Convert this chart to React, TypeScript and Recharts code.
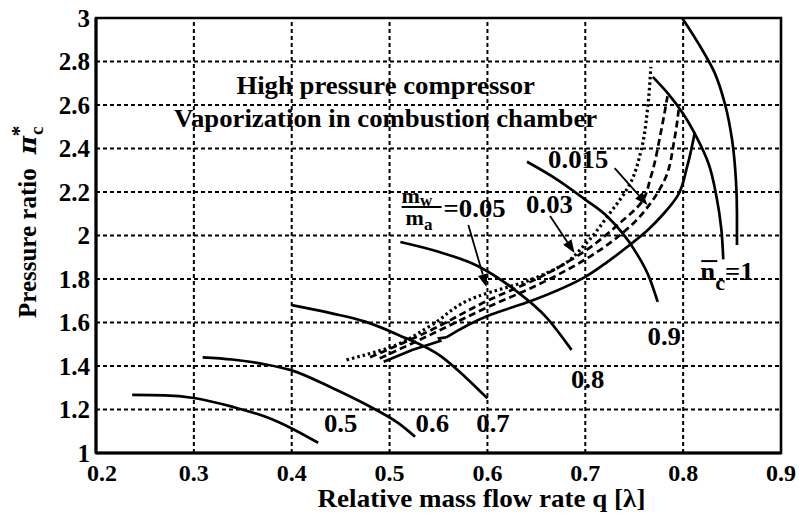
import React from 'react';
import {
  LineChart,
  Line,
  XAxis,
  YAxis,
  ReferenceLine,
  ReferenceDot,
  ReferenceArea,
} from 'recharts';

type Pt = { q: number; pr: number };
const toPts = (arr: number[][]): Pt[] => arr.map(([q, pr]) => ({ q, pr }));

// Constant relative speed lines (q, pressure ratio)
const speed05 = toPts([[0.237, 1.267], [0.27, 1.265], [0.3, 1.253], [0.339, 1.213], [0.374, 1.165], [0.4, 1.113], [0.427, 1.047]]);
const speed06 = toPts([[0.309, 1.44], [0.339, 1.43], [0.37, 1.41], [0.4, 1.38], [0.441, 1.3], [0.475, 1.225], [0.509, 1.137], [0.526, 1.075]]);
const speed07 = toPts([[0.4, 1.68], [0.441, 1.642], [0.475, 1.604], [0.509, 1.543], [0.553, 1.443], [0.577, 1.351], [0.6, 1.251]]);
const speed08 = toPts([[0.511, 1.97], [0.55, 1.925], [0.59, 1.86], [0.628, 1.75], [0.66, 1.625], [0.686, 1.474]]);
const speed09 = toPts([[0.6405, 2.339], [0.672, 2.255], [0.7, 2.165], [0.723, 2.085], [0.75, 1.935], [0.766, 1.8], [0.774, 1.695]]);
// the two highest speed lines, listed from their lower ends upward
const speed10 = toPts([[0.841, 1.89], [0.839, 2.03], [0.834, 2.18], [0.826, 2.33], [0.814, 2.45], [0.8, 2.56], [0.785, 2.65], [0.769, 2.729]]);
const speed105 = toPts([[0.855, 1.956], [0.855, 2.1], [0.854, 2.25], [0.85, 2.44], [0.843, 2.6], [0.832, 2.75], [0.816, 2.88], [0.799, 3.0]]);

// Surge lines for water/air ratios
const surgeDryLow = toPts([[0.494, 1.42], [0.523, 1.474], [0.5517, 1.515], [0.5505, 1.527], [0.558, 1.532]]);
const surgeDryHigh = toPts([[0.558, 1.532], [0.6, 1.63], [0.645, 1.7], [0.7, 1.81], [0.723, 1.88], [0.745, 1.955], [0.765, 2.03], [0.78, 2.1], [0.794, 2.18], [0.804, 2.315], [0.812, 2.476]]);
const surge0015 = toPts([[0.49, 1.435], [0.54, 1.54], [0.6, 1.67], [0.65, 1.77], [0.7, 1.89], [0.75, 2.06], [0.767, 2.15], [0.781, 2.255], [0.791, 2.44], [0.796, 2.6]]);
const surge003 = toPts([[0.48, 1.44], [0.54, 1.56], [0.6, 1.7], [0.65, 1.8], [0.7, 1.93], [0.736, 2.06], [0.757, 2.15], [0.767, 2.27], [0.777, 2.47], [0.784, 2.64]]);
const surge005 = toPts([[0.456, 1.428], [0.5, 1.485], [0.54, 1.58], [0.59, 1.72], [0.64, 1.79], [0.675, 1.86], [0.7, 1.96], [0.723, 2.09], [0.746, 2.24], [0.757, 2.39], [0.764, 2.6], [0.767, 2.775]]);

// Axis ticks
const xTicks = [0.2, 0.3, 0.4, 0.5, 0.6, 0.7, 0.8, 0.9];
const yTicks = [1, 1.2, 1.4, 1.6, 1.8, 2, 2.2, 2.4, 2.6, 2.8, 3];
const xGrid = [0.3, 0.4, 0.5, 0.6, 0.7, 0.8];
const yGrid = [1.2, 1.4, 1.6, 1.8, 2, 2.2, 2.4, 2.6, 2.8];

// Speed labels: [text, q, pressure ratio]
const speedLabels: [string, number, number][] = [
  ['0.5', 0.433, 1.097],
  ['0.6', 0.5266, 1.097],
  ['0.7', 0.5886, 1.097],
  ['0.8', 0.6853, 1.299],
  ['0.9', 0.7636, 1.497],
];

// Arrows from ratio labels to surge lines: [fromQ, fromPr, toQ, toPr]
const arrows: [number, number, number, number][] = [
  [0.5805, 2.048, 0.599, 1.763],
  [0.664, 2.09, 0.689, 1.92],
  [0.73, 2.31, 0.7636, 2.14],
];

const FONT = '"Liberation Serif", "Times New Roman", serif';
const txt = { fontFamily: FONT, fontWeight: 700, fill: '#000' } as const;
const WIDEN = 1.07;

const ArrowShape = (p: any) => {
  const { x1, y1, x2, y2 } = p;
  const dx = x2 - x1;
  const dy = y2 - y1;
  const len = Math.sqrt(dx * dx + dy * dy);
  const ux = dx / len;
  const uy = dy / len;
  const hl = 13;
  const hw = 5;
  const bx = x2 - ux * hl;
  const by = y2 - uy * hl;
  return (
    <g>
      <line x1={x1} y1={y1} x2={bx} y2={by} stroke="#000" strokeWidth={1.8} />
      <polygon
        points={`${x2},${y2} ${bx - uy * hw},${by + ux * hw} ${bx + uy * hw},${by - ux * hw}`}
        fill="#000"
      />
    </g>
  );
};

// Wide bold label placed at a data point
const WideText = ({ cx, cy, size = 25, anchor = 'start', children }: any) => (
  <g transform={`translate(${cx},${cy}) scale(${WIDEN},1)`}>
    <text x={0} y={0} style={txt} fontSize={size} textAnchor={anchor}>
      {children}
    </text>
  </g>
);

const textDot = (content: (cx: number, cy: number) => React.ReactElement) => (p: any) =>
  content(p.cx, p.cy);

const lineStyle = { stroke: '#000', strokeWidth: 2.7, dot: false, isAnimationActive: false } as const;

// X tick; the first label is nudged right, clear of the y-axis "1"
const XTick = (props: any) => {
  const { x, y, payload } = props;
  const shift = payload.value === 0.2 ? 6 : 0;
  return (
    <text x={x + shift} y={y} dy="0.71em" textAnchor="middle" style={txt} fontSize={24}>
      {payload.value}
    </text>
  );
};

const YLabel = (props: any) => {
  const vb = props.viewBox || { x: 36, y: 18 };
  const bx = vb.x;
  const by = vb.y + 300;
  return (
    <text transform={`translate(${bx}, ${by}) rotate(-90)`} style={txt} fontSize={25}>
      <tspan>Pressure ratio</tspan>
      <tspan dx={14} fontFamily="DejaVu Serif" fontStyle="italic">π</tspan>
      <tspan dx={1} dy={7} fontSize={19}>c</tspan>
      <tspan dx={-10} dy={-17} fontSize={22}>*</tspan>
    </text>
  );
};

const XLabel = (props: any) => {
  const vb = props.viewBox || { x: 96, y: 453, width: 685 };
  const cx = vb.x + vb.width / 2 + 43;
  const cy = vb.y + 54;
  return (
    <g transform={`translate(${cx},${cy}) scale(1.04,1)`}>
      <text x={0} y={0} style={txt} fontSize={26} textAnchor="middle">
        Relative mass flow rate q [λ]
      </text>
    </g>
  );
};

export default function App() {
  return (
    <div style={{ position: 'absolute', left: 0, top: 0, background: '#fff' }}>
      <LineChart width={799} height={515} margin={{ top: 18, right: 18, left: 36, bottom: 22 }}>
        <XAxis
          type="number"
          dataKey="q"
          domain={[0.2, 0.9]}
          ticks={xTicks}
          allowDataOverflow
          height={40}
          tickSize={0}
          tickMargin={11}
          tickLine={false}
          axisLine={{ stroke: '#000', strokeWidth: 3 }}
          tick={<XTick />}
          label={<XLabel />}
        />
        <YAxis
          type="number"
          dataKey="pr"
          domain={[1, 3]}
          ticks={yTicks}
          allowDataOverflow
          width={60}
          tickSize={0}
          tickMargin={6}
          tickLine={false}
          axisLine={{ stroke: '#000', strokeWidth: 3 }}
          tick={{ ...txt, fontSize: 25 }}
          label={<YLabel />}
        />

        {xGrid.map((v) => (
          <ReferenceLine key={`gx${v}`} x={v} stroke="#000" strokeWidth={2} strokeDasharray="4 3" />
        ))}
        {yGrid.map((v) => (
          <ReferenceLine key={`gy${v}`} y={v} stroke="#000" strokeWidth={2} strokeDasharray="4 3" />
        ))}

        <Line data={speed05} dataKey="pr" type="monotone" {...lineStyle} />
        <Line data={speed06} dataKey="pr" type="monotone" {...lineStyle} />
        <Line data={speed07} dataKey="pr" type="monotone" {...lineStyle} />
        <Line data={speed08} dataKey="pr" type="monotone" {...lineStyle} />
        <Line data={speed09} dataKey="pr" type="monotone" {...lineStyle} />
        <Line data={speed10} dataKey="pr" type="monotoneY" {...lineStyle} />
        <Line data={speed105} dataKey="pr" type="monotoneY" {...lineStyle} />

        <Line data={surgeDryLow} dataKey="pr" type="linear" {...lineStyle} />
        <Line data={surgeDryHigh} dataKey="pr" type="monotoneY" {...lineStyle} />
        <Line data={surge0015} dataKey="pr" type="monotoneY" {...lineStyle} strokeDasharray="7 4" />
        <Line data={surge003} dataKey="pr" type="monotoneY" {...lineStyle} strokeDasharray="7 4" />
        <Line data={surge005} dataKey="pr" type="monotoneY" {...lineStyle} strokeWidth={3.2} strokeDasharray="2.5 3" />

        <ReferenceArea x1={0.2} x2={0.9} y1={1} y2={3} fill="none" stroke="#000" strokeWidth={2.6} ifOverflow="visible" />

        {arrows.map(([a, b, c, d], i) => (
          <ReferenceLine key={`ar${i}`} segment={[{ x: a, y: b }, { x: c, y: d }]} shape={ArrowShape} ifOverflow="visible" />
        ))}

        {speedLabels.map(([t, q, pr]) => (
          <ReferenceDot
            key={t}
            x={q}
            y={pr}
            r={1}
            ifOverflow="visible"
            shape={textDot((cx, cy) => <WideText cx={cx} cy={cy}>{t}</WideText>)}
          />
        ))}

        <ReferenceDot
          x={0.8175}
          y={1.795}
          r={1}
          ifOverflow="visible"
          shape={textDot((cx, cy) => (
            <g>
              <line x1={cx + 1} y1={cy - 19} x2={cx + 17} y2={cy - 19} stroke="#000" strokeWidth={2} />
              <WideText cx={cx} cy={cy}>
                <tspan>n</tspan>
                <tspan dy={10} fontSize={21}>c</tspan>
                <tspan dy={-10}>=1</tspan>
              </WideText>
            </g>
          ))}
        />

        <ReferenceDot
          x={0.662}
          y={2.31}
          r={1}
          ifOverflow="visible"
          shape={textDot((cx, cy) => <WideText cx={cx} cy={cy}>0.015</WideText>)}
        />
        <ReferenceDot
          x={0.6395}
          y={2.103}
          r={1}
          ifOverflow="visible"
          shape={textDot((cx, cy) => <WideText cx={cx} cy={cy}>0.03</WideText>)}
        />
        <ReferenceDot
          x={0.5123}
          y={2.131}
          r={1}
          ifOverflow="visible"
          shape={textDot((cx, cy) => (
            <g>
              <text x={cx} y={cy - 4} style={txt} fontSize={22}>
                <tspan>m</tspan>
                <tspan dy={3} fontSize={17}>w</tspan>
              </text>
              <line x1={cx} y1={cy} x2={cx + 40} y2={cy} stroke="#000" strokeWidth={1.8} />
              <text x={cx + 4} y={cy + 18} style={txt} fontSize={22}>
                <tspan>m</tspan>
                <tspan dy={5} fontSize={17}>a</tspan>
              </text>
              <WideText cx={cx + 42} cy={cy + 10}>=0.05</WideText>
            </g>
          ))}
        />

        <ReferenceDot
          x={0.496}
          y={2.651}
          r={1}
          ifOverflow="visible"
          shape={textDot((cx, cy) => (
            <WideText cx={cx} cy={cy} anchor="middle">High pressure compressor</WideText>
          ))}
        />
        <ReferenceDot
          x={0.496}
          y={2.499}
          r={1}
          ifOverflow="visible"
          shape={textDot((cx, cy) => (
            <WideText cx={cx} cy={cy} anchor="middle">Vaporization in combustion chamber</WideText>
          ))}
        />
      </LineChart>
    </div>
  );
}
